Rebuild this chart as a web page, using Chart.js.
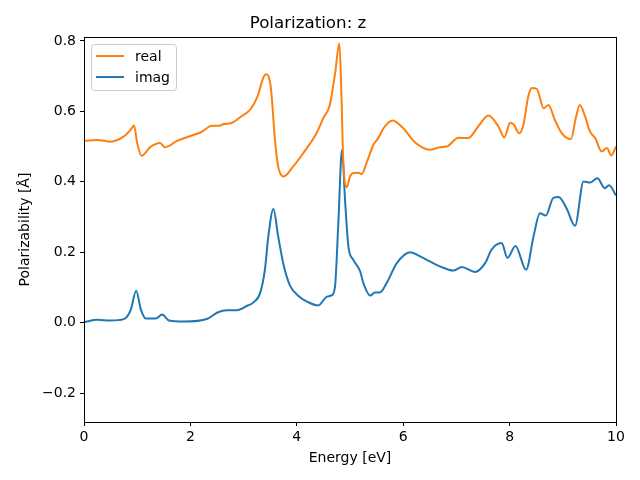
<!DOCTYPE html>
<html lang="en">
<head>
    <meta charset="UTF-8">
    <title>Polarization: z</title>
    <script src="https://cdn.jsdelivr.net/npm/chart.js@4.4.1/dist/chart.umd.min.js"></script>
    <style>
        body { margin: 0; background: #fff; }
        #chart { display: block; }
    </style>
</head>
<body>
    <canvas id="chart" width="640" height="480"></canvas>

    <script>
        // values
        const realEnergy = [0, 0.25, 0.5, 0.75, 0.88, 0.94, 1.0, 1.08, 1.25, 1.43,
            1.52, 1.75, 2.0, 2.19, 2.41, 2.54, 2.63, 2.76, 2.95, 3.13,
            3.26, 3.38, 3.43, 3.51, 3.59, 3.65, 3.75, 3.93, 4.12, 4.37,
            4.5, 4.62, 4.72, 4.8, 4.84, 4.87, 4.94, 5.0, 5.06, 5.16,
            5.22, 5.31, 5.44, 5.53, 5.63, 5.8, 6.0, 6.22, 6.5, 6.69,
            6.82, 7.04, 7.22, 7.41, 7.6, 7.79, 7.9, 8.01, 8.08, 8.18,
            8.26, 8.35, 8.42, 8.51, 8.64, 8.73, 8.85, 8.98, 9.15, 9.25,
            9.32, 9.42, 9.51, 9.61, 9.73, 9.83, 9.91, 10];
        const realValues = [0.516, 0.519, 0.514, 0.529, 0.548, 0.56, 0.51, 0.474, 0.499, 0.51,
            0.498, 0.516, 0.53, 0.54, 0.559, 0.559, 0.564, 0.566, 0.585, 0.606,
            0.642, 0.699, 0.705, 0.67, 0.519, 0.443, 0.415, 0.443, 0.481, 0.538,
            0.581, 0.618, 0.708, 0.793, 0.642, 0.472, 0.385, 0.415, 0.425, 0.426,
            0.422, 0.453, 0.505, 0.524, 0.552, 0.574, 0.552, 0.512, 0.491, 0.498,
            0.5, 0.525, 0.524, 0.557, 0.588, 0.557, 0.526, 0.568, 0.562, 0.538,
            0.562, 0.642, 0.666, 0.664, 0.609, 0.618, 0.576, 0.538, 0.521, 0.585,
            0.618, 0.585, 0.543, 0.524, 0.486, 0.496, 0.475, 0.5];

        const imagEnergy = [0, 0.25, 0.5, 0.75, 0.88, 0.98, 1.07, 1.16, 1.35, 1.47,
            1.6, 1.88, 2.32, 2.51, 2.69, 2.85, 3.07, 3.18, 3.31, 3.4,
            3.465, 3.56, 3.65, 3.75, 3.87, 4.06, 4.19, 4.4, 4.57, 4.66,
            4.72, 4.78, 4.85, 4.91, 4.97, 5.06, 5.19, 5.25, 5.38, 5.47,
            5.56, 5.69, 5.88, 6.13, 6.32, 6.5, 6.69, 6.94, 7.1, 7.35,
            7.54, 7.66, 7.85, 7.96, 8.11, 8.31, 8.45, 8.57, 8.68, 8.82,
            8.92, 9.07, 9.23, 9.39, 9.51, 9.65, 9.79, 9.87, 10];
        const imagValues = [0.001, 0.008, 0.006, 0.01, 0.037, 0.091, 0.037, 0.012, 0.012, 0.023,
            0.006, 0.003, 0.011, 0.029, 0.035, 0.035, 0.048, 0.057, 0.084, 0.15,
            0.245, 0.323, 0.245, 0.165, 0.106, 0.072, 0.06, 0.049, 0.074, 0.078,
            0.105, 0.28, 0.491, 0.34, 0.216, 0.179, 0.146, 0.113, 0.077, 0.086,
            0.086, 0.113, 0.169, 0.2, 0.188, 0.174, 0.16, 0.148, 0.158, 0.144,
            0.169, 0.207, 0.226, 0.184, 0.218, 0.15, 0.245, 0.311, 0.304, 0.354,
            0.357, 0.325, 0.275, 0.401, 0.398, 0.41, 0.382, 0.39, 0.361];

        const xTicks = [0, 2, 4, 6, 8, 10];
        const yTicks = [-0.2, 0.0, 0.2, 0.4, 0.6, 0.8];

        Chart.defaults.font.family = "'DejaVu Sans', sans-serif";
        Chart.defaults.color = '#000';

        // matplotlib style frame around the plot area
        const framePlugin = {
            id: 'frame',
            afterDatasetsDraw(chart) {
                const a = chart.chartArea, ctx = chart.ctx;
                ctx.save();
                ctx.strokeStyle = '#000';
                ctx.lineWidth = 1;
                ctx.strokeRect(Math.round(a.left) + 0.5, Math.round(a.top) + 0.5,
                    Math.round(a.right - a.left), Math.round(a.bottom - a.top));
                ctx.restore();
            }
        };

        // legend drawn inside the axes, upper left
        const insideLegend = {
            id: 'insideLegend',
            afterDraw(chart) {
                const a = chart.chartArea, ctx = chart.ctx;
                const x0 = a.left + 7, y0 = a.top + 7, w = 85, h = 46;
                ctx.save();
                ctx.fillStyle = 'rgba(255,255,255,0.8)';
                ctx.strokeStyle = '#cccccc';
                ctx.lineWidth = 1;
                ctx.beginPath();
                ctx.roundRect(x0 + 0.5, y0 + 0.5, w, h, 3);
                ctx.fill();
                ctx.stroke();
                ctx.font = "14px 'DejaVu Sans'";
                ctx.textBaseline = 'middle';
                chart.data.datasets.forEach((ds, i) => {
                    const y = y0 + 12 + i * 21;
                    ctx.strokeStyle = ds.borderColor;
                    ctx.lineWidth = 2;
                    ctx.beginPath();
                    ctx.moveTo(x0 + 5, y);
                    ctx.lineTo(x0 + 33, y);
                    ctx.stroke();
                    ctx.fillStyle = '#000';
                    ctx.fillText(ds.label, x0 + 44, y + 1);
                });
                ctx.restore();
            }
        };

        new Chart(document.getElementById('chart'), {
            type: 'line',
            data: {
                datasets: [{
                    label: 'real',
                    data: realEnergy.map((x, i) => ({ x: x, y: realValues[i] })),
                    borderColor: '#ff7f0e',
                    borderWidth: 2,
                    pointRadius: 0,
                    cubicInterpolationMode: 'monotone'
                }, {
                    label: 'imag',
                    data: imagEnergy.map((x, i) => ({ x: x, y: imagValues[i] })),
                    borderColor: '#1f77b4',
                    borderWidth: 2,
                    pointRadius: 0,
                    cubicInterpolationMode: 'monotone'
                }]
            },
            options: {
                responsive: false,
                animation: false,
                layout: { padding: { left: 0, right: 24, top: 0, bottom: 0 } },
                plugins: {
                    legend: { display: false },
                    tooltip: { enabled: false },
                    title: {
                        display: true,
                        text: 'Polarization: z',
                        font: { size: 16.7, weight: 'normal' },
                        padding: { top: 14, bottom: 3 }
                    }
                },
                scales: {
                    x: {
                        type: 'linear',
                        min: 0,
                        max: 10,
                        afterFit(scale) { scale.height = 58; },
                        afterBuildTicks(scale) { scale.ticks = xTicks.map(v => ({ value: v })); },
                        ticks: {
                            font: { size: 14 },
                            padding: 3,
                            maxRotation: 0,
                            callback: v => String(v)
                        },
                        grid: { drawOnChartArea: false, color: '#000', tickLength: 4 },
                        border: { color: '#000' },
                        title: {
                            display: true,
                            text: 'Energy [eV]',
                            font: { size: 14 },
                            padding: { top: 0, bottom: 13 }
                        }
                    },
                    y: {
                        type: 'linear',
                        min: -0.282,
                        max: 0.811,
                        afterFit(scale) { scale.width = 84; },
                        afterBuildTicks(scale) { scale.ticks = yTicks.map(v => ({ value: v })); },
                        ticks: {
                            font: { size: 14 },
                            padding: 4,
                            callback: v => v.toFixed(1).replace('-', '\u2212')
                        },
                        grid: { drawOnChartArea: false, color: '#000', tickLength: 4 },
                        border: { color: '#000' },
                        title: {
                            display: true,
                            text: 'Polarizability [Å]',
                            font: { size: 14 },
                            padding: { top: 17, bottom: 0 }
                        }
                    }
                }
            },
            plugins: [framePlugin, insideLegend]
        });
    </script>
</body>
</html>
